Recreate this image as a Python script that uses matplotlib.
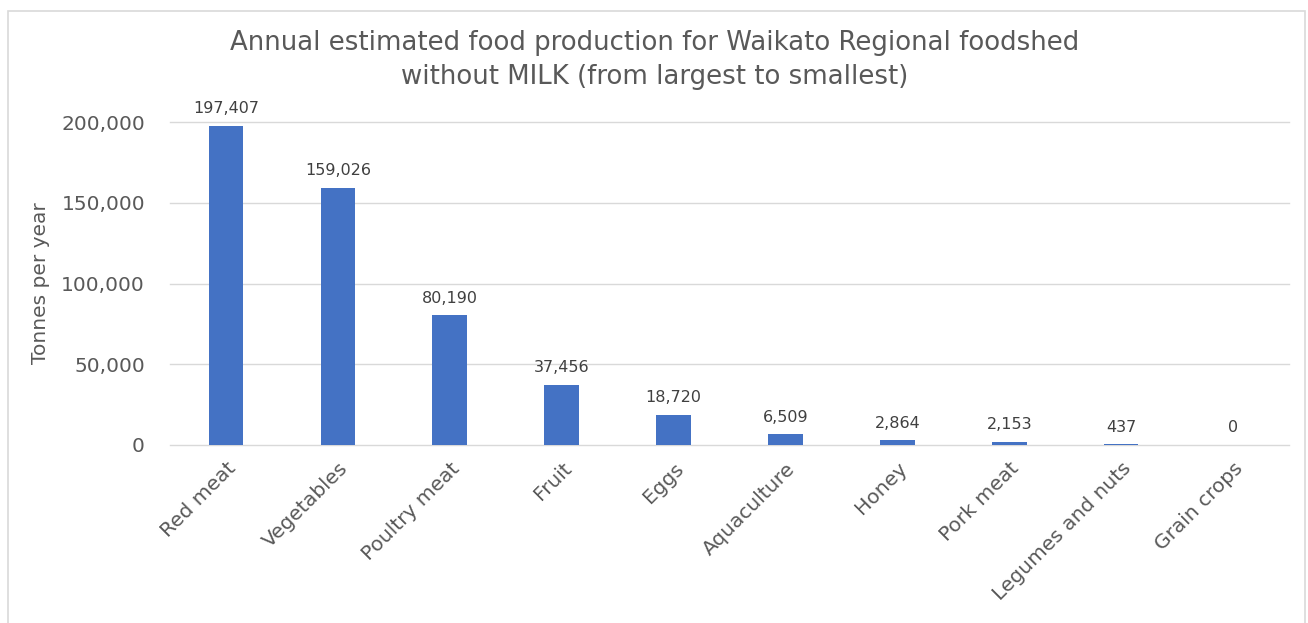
import matplotlib
matplotlib.use("Agg")
import matplotlib.pyplot as plt
from matplotlib.patches import Rectangle
from matplotlib.ticker import FuncFormatter

categories = ["Red meat", "Vegetables", "Poultry meat", "Fruit", "Eggs",
              "Aquaculture", "Honey", "Pork meat", "Legumes and nuts", "Grain crops"]
tonnes = [197407, 159026, 80190, 37456, 18720, 6509, 2864, 2153, 437, 0]
yticks = [0, 50000, 100000, 150000, 200000]

BLUE = "#4472C4"
TXT = "#595959"
GRID = "#D9D9D9"

plt.rcParams["font.family"] = ["DejaVu Sans"]

fig = plt.figure(figsize=(13.08, 6.23), dpi=100)
# chart-area border (bottom edge runs off the picture, as in the source)
fig.patches.append(Rectangle((8 / 1308, -0.05), 1297 / 1308, 0.05 + 612 / 623,
                             transform=fig.transFigure, fill=False,
                             edgecolor=GRID, linewidth=1.2))
ax = fig.add_axes([170 / 1308, 178 / 623, 1119 / 1308, 323 / 623])

x = range(len(categories))
bars = ax.bar(x, tonnes, width=0.31, color=BLUE, zorder=3)
for b, v in zip(bars, tonnes):
    ax.text(b.get_x() + b.get_width() / 2, v + 6000, f"{v:,}", ha="center", va="bottom",
            fontsize=11.5, color="#404040")

ax.set_xlim(-0.5, len(categories) - 0.5)
ax.set_ylim(0, 200000)
ax.set_yticks(yticks)
ax.yaxis.set_major_formatter(FuncFormatter(lambda v, p: f"{int(v):,}"))
ax.grid(axis="y", color=GRID, linewidth=1.0, zorder=0)
for gl in ax.get_ygridlines():
    gl.set_clip_on(False)
for s in ax.spines.values():
    s.set_visible(False)
ax.tick_params(length=0, colors=TXT, labelsize=14.5)
ax.tick_params(axis="y", pad=18)
ax.set_xticks(list(x))
ax.set_xticklabels(categories, rotation=45, ha="right", rotation_mode="anchor")
ax.tick_params(axis="x", pad=10)
ax.set_ylabel("Tonnes per year", fontsize=14.5, color=TXT, labelpad=8)

fig.text(655 / 1308, 1 - 60 / 623,
         "Annual estimated food production for Waikato Regional foodshed\nwithout MILK (from largest to smallest)",
         ha="center", va="center", fontsize=18.7, color=TXT, linespacing=1.38)

fig.savefig("out.png", dpi=100)
